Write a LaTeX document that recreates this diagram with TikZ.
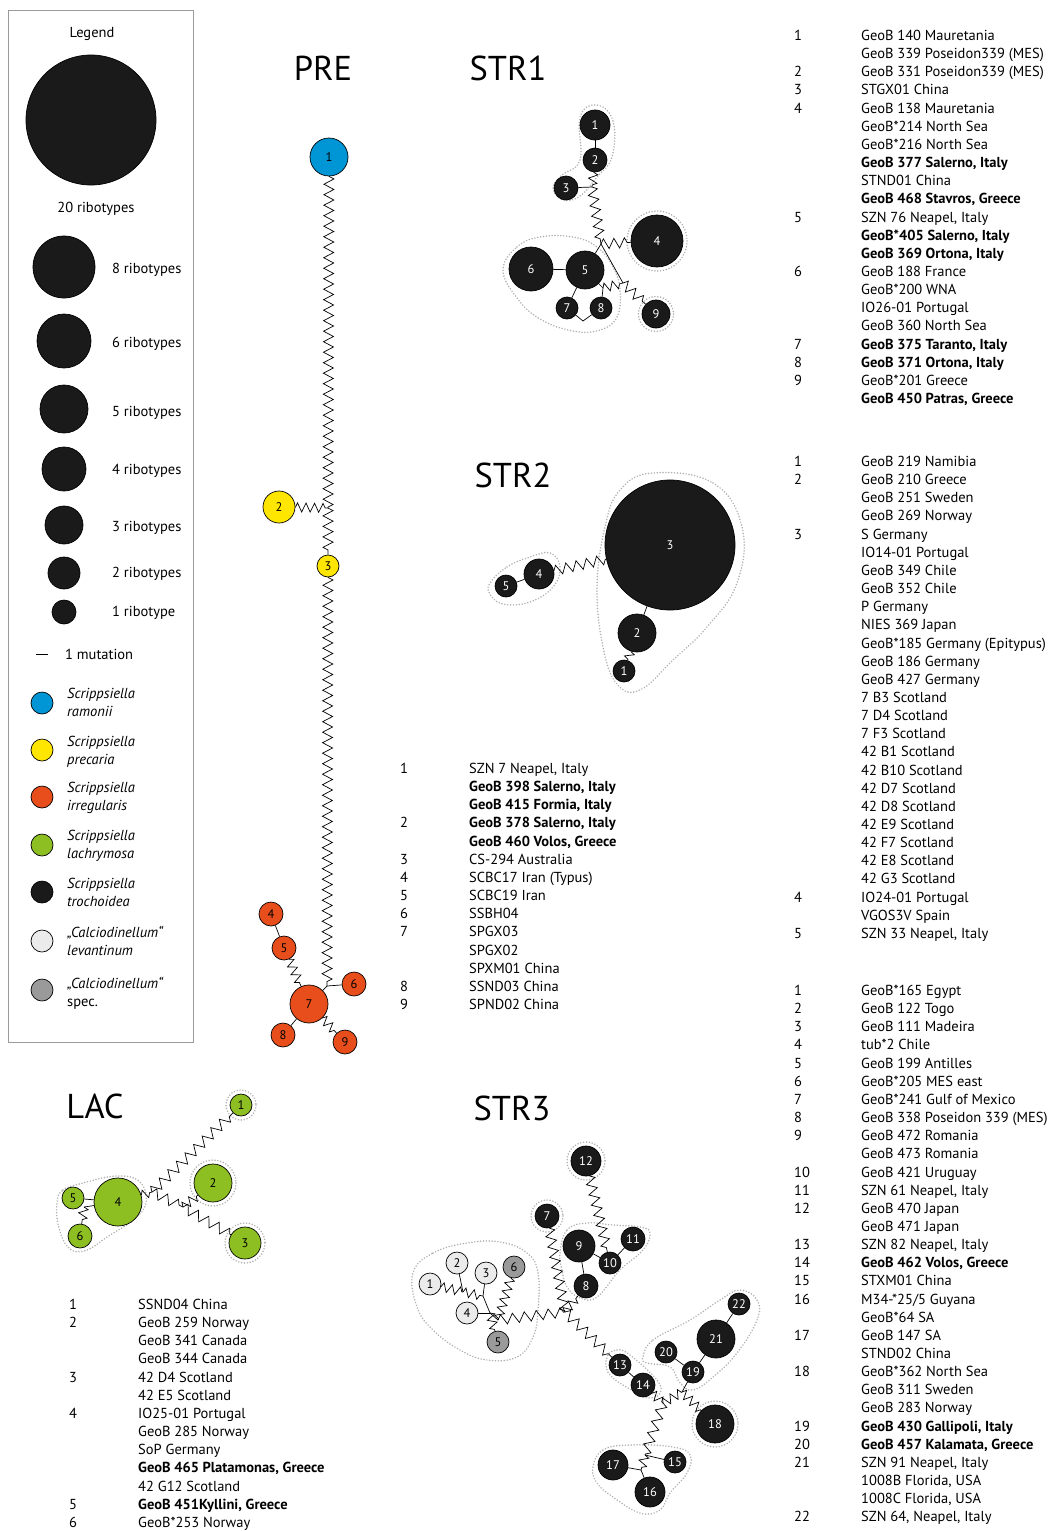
\documentclass[tikz,border=0pt]{standalone}
\usepackage{fontspec}
\setmainfont{PT Sans}
\usetikzlibrary{decorations.pathmorphing}
\definecolor{cblue}{HTML}{0096D6}
\definecolor{cyel}{HTML}{FFE600}
\definecolor{cora}{HTML}{E84E1B}
\definecolor{cgrn}{HTML}{8DBE22}
\definecolor{cblk}{HTML}{1A1A1A}
\definecolor{clgt}{HTML}{EBEBEB}
\definecolor{cgry}{HTML}{9A9A9A}
\definecolor{chul}{HTML}{B0B0B0}
\tikzset{
 hap/.style={circle, draw=black, line width=0.7pt, inner sep=0pt, minimum size={2*#1}, font=\fontsize{12.5}{12.5}\selectfont},
 dk/.style={fill=cblk, text=white},
 zz/.style={decorate, decoration={zigzag, segment length=10.5, amplitude=5}, line width=0.7pt},
 zb/.style={decorate, decoration={zigzag, segment length=12, amplitude=5}, line width=0.7pt},
 zs/.style={decorate, decoration={zigzag, segment length=8.5, amplitude=4.5}, line width=0.7pt},
 ln/.style={line width=0.7pt},
 hull/.style={draw=chul, line width=1.7pt, line cap=round, dash pattern=on 0pt off 2.9pt},
 ttl/.style={font=\fontsize{34.5}{34.5}\selectfont, inner sep=0},
 ltxt/.style={anchor=base west, inner sep=0, font=\fontsize{14.5}{16}\selectfont},
 lgd/.style={anchor=base west, inner sep=0, font=\fontsize{14.5}{16}\selectfont},
 lgi/.style={anchor=base west, inner sep=0, font=\fontsize{14.5}{16}\selectfont\itshape},
}
\newcounter{lrow}
\newcommand\lstart[4]{\gdef\lnx{#1}\gdef\ltx{#2}\gdef\lty{#3}\gdef\lpre{#4}\setcounter{lrow}{0}}
\newcommand\li[2]{\if\relax\detokenize{#1}\relax\else\node[ltxt] (\lpre n\arabic{lrow}) at (\lnx,{\lty+18.15*\arabic{lrow}}) {#1};\fi
 \node[ltxt] (\lpre t\arabic{lrow}) at (\ltx,{\lty+18.15*\arabic{lrow}}) {#2};\stepcounter{lrow}}
\begin{document}
\begin{tikzpicture}[x=1pt,y=-1pt]
\useasboundingbox (0,0) rectangle (1054,1531);
% ---------------- Legend
\draw[draw=cgry, line width=0.7pt] (8.5,10) rectangle (193,1042);
\node[lgd, anchor=base] (lgT) at (92,37.5) {Legend};
\node[hap=65, dk] (lg20) at (91,120) {};
\node[lgd, anchor=base] (lg20t) at (96,212.5) {20 ribotypes};
\node[hap=31, dk] (lg8) at (64,267) {};
\node[lgd] (lg8t) at (112,273) {8 ribotypes};
\node[hap=27, dk] (lg6) at (64,341) {};
\node[lgd] (lg6t) at (112,347) {6 ribotypes};
\node[hap=24, dk] (lg5) at (64,409) {};
\node[lgd] (lg5t) at (112,416) {5 ribotypes};
\node[hap=22, dk] (lg4) at (64,469) {};
\node[lgd] (lg4t) at (112,474) {4 ribotypes};
\node[hap=19, dk] (lg3) at (64,525) {};
\node[lgd] (lg3t) at (112,531) {3 ribotypes};
\node[hap=16, dk] (lg2) at (64,573) {};
\node[lgd] (lg2t) at (112,577) {2 ribotypes};
\node[hap=12, dk] (lg1) at (64,612) {};
\node[lgd] (lg1t) at (112,616) {1 ribotype};
\coordinate (lgm1) at (36,654); \coordinate (lgm2) at (48,654);
\draw[ln] (lgm1) -- (lgm2);
\node[lgd] (lgmt) at (65,659) {1 mutation};
\node[hap=11, fill=cblue] (lgc1) at (42,703) {};
\node[lgi] (lgc1a) at (67,698) {Scrippsiella};
\node[lgi] (lgc1b) at (67,716) {ramonii};
\node[hap=11, fill=cyel] (lgc2) at (42,750) {};
\node[lgi] (lgc2a) at (67,746) {Scrippsiella};
\node[lgi] (lgc2b) at (67,764) {precaria};
\node[hap=11, fill=cora] (lgc3) at (42,797) {};
\node[lgi] (lgc3a) at (67,792) {Scrippsiella};
\node[lgi] (lgc3b) at (67,810) {irregularis};
\node[hap=11, fill=cgrn] (lgc4) at (42,845) {};
\node[lgi] (lgc4a) at (67,840) {Scrippsiella};
\node[lgi] (lgc4b) at (67,858) {lachrymosa};
\node[hap=11, fill=cblk] (lgc5) at (42,892) {};
\node[lgi] (lgc5a) at (67,888) {Scrippsiella};
\node[lgi] (lgc5b) at (67,906) {trochoidea};
\node[hap=11, fill=clgt] (lgc6) at (42,941) {};
\node[lgi] (lgc6a) at (67,937) {„Calciodinellum“};
\node[lgi] (lgc6b) at (67,955) {levantinum};
\node[hap=11, fill=cgry] (lgc7) at (42,990) {};
\node[lgi] (lgc7a) at (67,988) {„Calciodinellum“};
\node[lgd] (lgc7b) at (67,1006) {spec.};
% ---------------- Titles
\node[ttl] (tPRE) at (323,68) {PRE};
\node[ttl] (tSTR1) at (508,68) {STR1};
\node[ttl] (tSTR2) at (513,475) {STR2};
\node[ttl] (tLAC) at (95,1106) {LAC};
\node[ttl] (tSTR3) at (512,1108) {STR3};
% ---------------- PRE
\node[hap=19, fill=cblue] (P1) at (329,157) {1};
\node[hap=16, fill=cyel] (P2) at (279,507) {2};
\node[hap=11, fill=cyel] (P3) at (328,566) {3};
\node[hap=12, fill=cora] (P4) at (271,914) {4};
\node[hap=12, fill=cora] (P5) at (284,948) {5};
\node[hap=12, fill=cora] (P6) at (354,984) {6};
\node[hap=19, fill=cora] (P7) at (309,1004) {7};
\node[hap=12, fill=cora] (P8) at (283,1035) {8};
\node[hap=12, fill=cora] (P9) at (345,1042) {9};
\coordinate (PJ1) at (328,508);
\coordinate (PJ2) at (327,986);
\draw[zz] (P1) -- (PJ1);
\draw[zz] (PJ1) -- (P3);
\draw[zs] (P2) -- (PJ1);
\draw[zz] (P3) -- (PJ2);
\draw[ln] (PJ2) -- (P6);
\draw[ln] (PJ2) -- (P7);
\draw[ln] (P4) -- (P5);
\draw[zs] (P5) -- (P7);
\draw[ln] (P7) -- (P8);
\draw[zs] (P7) -- (P9);
% ---------------- STR1
\draw[hull] plot[smooth cycle, tension=0.7] coordinates {(597,105) (613,121) (612,157) (597,177) (580,196) (563,200) (553,188) (562,175) (580,160) (580,117)};
\draw[hull] (657,241) circle (30);
\draw[hull] (656,314) circle (17.5);
\draw[hull] plot[smooth cycle, tension=0.7] coordinates {(503,270) (517,247) (540,237) (573,237) (597,247) (613,267) (620,290) (617,317) (600,330) (573,331) (540,319) (517,298)};
\node[hap=15, dk] (A1) at (595,125) {1};
\node[hap=12, dk] (A2) at (595,160) {2};
\node[hap=12, dk] (A3) at (566,188) {3};
\node[hap=26, dk] (A4) at (657,241) {4};
\node[hap=19, dk] (A5) at (585,270) {5};
\node[hap=22, dk] (A6) at (531,269) {6};
\node[hap=11, dk] (A7) at (567,308) {7};
\node[hap=11, dk] (A8) at (601,308) {8};
\node[hap=14, dk] (A9) at (656,314) {9};
\coordinate (AJ1) at (592,187);
\coordinate (AJ2) at (601,244);
\coordinate (AJ3) at (623,283);
\coordinate (AJ4) at (603,288);
\coordinate (AJ5) at (583,321);
\draw[ln] (A1) -- (A2);
\draw[zs] (A2) -- (AJ1);
\draw[ln] (A3) -- (AJ1);
\draw[zz] (AJ1) -- (AJ2);
\draw[ln] (AJ2) -- (A5);
\draw[zz] (AJ2) -- (A4);
\draw[ln] (AJ2) -- (AJ3);
\draw[zz] (AJ3) -- (A9);
\draw[ln] (A5) -- (AJ4);
\draw[ln] (AJ4) -- (A8);
\draw[zs] (AJ4) -- (AJ3);
\draw[ln] (A5) -- (A6);
\draw[ln] (A5) -- (A7);
\draw[ln] (A7) -- (AJ5) -- (A8);
% ---------------- STR2
\draw[hull] plot[smooth cycle, tension=0.7] coordinates {(490,583) (507,567) (530,557) (550,553) (560,567) (553,587) (530,602) (503,604) (490,594)};
\draw[hull] plot[smooth cycle, tension=0.7] coordinates {(653,473) (713,483) (742,527) (737,583) (707,627) (673,660) (640,690) (617,684) (603,647) (597,587) (605,527) (620,490)};
\node[hap=65, dk] (B3) at (670,545) {3};
\node[hap=19, dk] (B2) at (637,633) {2};
\node[hap=11, dk] (B1) at (624,671) {1};
\node[hap=15, dk] (B4) at (539,574) {4};
\node[hap=11, dk] (B5) at (506,586) {5};
\draw[ln] (B3) -- (B2);
\draw[zs] (B2) -- (B1);
\draw[ln] (B4) -- (B5);
\draw[zz] (B4) -- (B3);
% ---------------- LAC
\draw[hull] (241,1105) circle (15);
\draw[hull] (213,1183) circle (23);
\draw[hull] (245,1243) circle (20);
\draw[hull] plot[smooth cycle, tension=0.7] coordinates {(57,1203) (63,1190) (83,1183) (117,1176) (140,1182) (146,1203) (133,1220) (107,1237) (87,1250) (70,1249) (59,1228)};
\node[hap=11, fill=cgrn] (C1) at (241,1105) {1};
\node[hap=19, fill=cgrn] (C2) at (213,1183) {2};
\node[hap=16, fill=cgrn] (C3) at (245,1243) {3};
\node[hap=24, fill=cgrn] (C4) at (118,1202) {4};
\node[hap=11, fill=cgrn] (C5) at (73,1198) {5};
\node[hap=12, fill=cgrn] (C6) at (80,1236) {6};
\coordinate (CJ1) at (152,1192);
\coordinate (CJ2) at (183,1207);
\coordinate (CJ3) at (84,1207);
\draw[zs] (C4) -- (CJ1);
\draw[zb] (CJ1) -- (C1);
\draw[zb] (CJ1) -- (CJ2);
\draw[zs] (CJ2) -- (C2);
\draw[zb] (CJ2) -- (C3);
\draw[ln] (C5) -- (C4);
\draw[ln] (CJ3) -- (C4);
\draw[zs] (CJ3) -- (C6);
% ---------------- STR3
\draw[hull] (586,1161) circle (19);
\draw[hull] (547,1216) circle (16);
\draw[hull] (715,1424) circle (23);
\draw[hull] plot[smooth cycle, tension=0.7] coordinates {(560,1253) (567,1230) (587,1223) (613,1225) (640,1227) (650,1233) (643,1250) (620,1270) (597,1297) (580,1298) (567,1287) (562,1270)};
\draw[hull] plot[smooth cycle, tension=0.7] coordinates {(413,1273) (433,1253) (467,1243) (500,1242) (527,1253) (538,1273) (538,1310) (533,1337) (517,1357) (487,1360) (460,1350) (433,1330) (417,1307)};
\draw[hull] plot[smooth cycle, tension=0.7] coordinates {(607,1357) (617,1350) (630,1355) (657,1380) (660,1393) (650,1398) (637,1393) (610,1375)};
\draw[hull] plot[smooth cycle, tension=0.7] coordinates {(643,1357) (653,1340) (690,1320) (720,1300) (740,1290) (757,1300) (757,1320) (737,1353) (713,1377) (693,1390) (680,1383) (670,1367) (647,1363)};
\draw[hull] plot[smooth cycle, tension=0.7] coordinates {(593,1467) (603,1450) (630,1445) (673,1447) (690,1455) (687,1473) (670,1493) (660,1510) (640,1513) (613,1497) (597,1483)};
\node[hap=11, fill=clgt] (D1) at (430,1284) {1};
\node[hap=11, fill=clgt] (D2) at (457,1263) {2};
\node[hap=11, fill=clgt] (D3) at (486,1273) {3};
\node[hap=11, fill=clgt] (D4) at (467,1313) {4};
\node[hap=11, fill=cgry] (D5) at (498,1342) {5};
\node[hap=11, fill=cgry] (D6) at (514,1267) {6};
\node[hap=12, dk] (D7) at (547,1216) {7};
\node[hap=12, dk] (D8) at (586,1286) {8};
\node[hap=16, dk] (D9) at (579,1246) {9};
\node[hap=11, dk] (D10) at (610,1263) {10};
\node[hap=12, dk] (D11) at (633,1239) {11};
\node[hap=15, dk] (D12) at (586,1161) {12};
\node[hap=11, dk] (D13) at (620,1365) {13};
\node[hap=12, dk] (D14) at (643,1385) {14};
\node[hap=11, dk] (D15) at (675,1462) {15};
\node[hap=15, dk] (D16) at (650,1492) {16};
\node[hap=15, dk] (D17) at (613,1465) {17};
\node[hap=19, dk] (D18) at (715,1424) {18};
\node[hap=11, dk] (D19) at (693,1372) {19};
\node[hap=11, dk] (D20) at (666,1352) {20};
\node[hap=19, dk] (D21) at (716,1339) {21};
\node[hap=11, dk] (D22) at (739,1304) {22};
\coordinate (DJa) at (463,1292);
\coordinate (DJA) at (483,1296);
\coordinate (DJB) at (490,1313);
\coordinate (DJC) at (498,1320);
\coordinate (DJD) at (565,1312);
\coordinate (DJE) at (663,1403);
\coordinate (DJF) at (682,1392);
\coordinate (DJG) at (645,1455);
\coordinate (DJH) at (641,1470);
\draw[zs] (D1) -- (DJa);
\draw[zs] (DJa) -- (DJA);
\draw[ln] (D2) -- (DJa);
\draw[ln] (D3) -- (DJA);
\draw[ln] (DJA) -- (DJB);
\draw[ln] (D4) -- (DJB);
\draw[zs] (DJB) -- (D5);
\draw[ln] (DJB) -- (DJC);
\draw[zs] (D6) -- (DJC);
\draw[zb] (DJC) -- (DJD);
\draw[zz] (D7) -- (DJD);
\draw[zs] (DJD) -- (D8);
\draw[zb] (DJD) -- (D13);
\draw[zz] (D12) -- (D10);
\draw[ln] (D10) -- (D11);
\draw[ln] (D9) -- (D10);
\draw[ln] (D9) -- (D8);
\draw[ln] (D13) -- (D14);
\draw[zs] (D14) -- (DJE);
\draw[zs] (DJE) -- (DJF);
\draw[ln] (DJF) -- (D19);
\draw[zs] (DJF) -- (D18);
\draw[ln] (D19) -- (D21);
\draw[ln] (D21) -- (D22);
\draw[ln] (D20) -- (D19);
\draw[zb] (DJE) -- (DJG);
\draw[ln] (DJG) -- (D15);
\draw[zs] (DJG) -- (DJH);
\draw[ln] (DJH) -- (D17);
\draw[ln] (DJH) -- (D16);
% ---------------- Lists
\lstart{794}{861}{40.5}{La}
\li{1}{GeoB 140 Mauretania}
\li{}{GeoB 339 Poseidon339 (MES)}
\li{2}{GeoB 331 Poseidon339 (MES)}
\li{3}{STGX01 China}
\li{4}{GeoB 138 Mauretania}
\li{}{GeoB*214 North Sea}
\li{}{GeoB*216 North Sea}
\li{}{\textbf{GeoB 377 Salerno, Italy}}
\li{}{STND01 China}
\li{}{\textbf{GeoB 468 Stavros, Greece}}
\li{5}{SZN 76 Neapel, Italy}
\li{}{\textbf{GeoB*405 Salerno, Italy}}
\li{}{\textbf{GeoB 369 Ortona, Italy}}
\li{6}{GeoB 188 France}
\li{}{GeoB*200 WNA}
\li{}{IO26-01 Portugal}
\li{}{GeoB 360 North Sea}
\li{7}{\textbf{GeoB 375 Taranto, Italy}}
\li{8}{\textbf{GeoB 371 Ortona, Italy}}
\li{9}{GeoB*201 Greece}
\li{}{\textbf{GeoB 450 Patras, Greece}}
\lstart{794}{861}{466.5}{Lb}
\li{1}{GeoB 219 Namibia}
\li{2}{GeoB 210 Greece}
\li{}{GeoB 251 Sweden}
\li{}{GeoB 269 Norway}
\li{3}{S Germany}
\li{}{IO14-01 Portugal}
\li{}{GeoB 349 Chile}
\li{}{GeoB 352 Chile}
\li{}{P Germany}
\li{}{NIES 369 Japan}
\li{}{GeoB*185 Germany (Epitypus)}
\li{}{GeoB 186 Germany}
\li{}{GeoB 427 Germany}
\li{}{7 B3 Scotland}
\li{}{7 D4 Scotland}
\li{}{7 F3 Scotland}
\li{}{42 B1 Scotland}
\li{}{42 B10 Scotland}
\li{}{42 D7 Scotland}
\li{}{42 D8 Scotland}
\li{}{42 E9 Scotland}
\li{}{42 F7 Scotland}
\li{}{42 E8 Scotland}
\li{}{42 G3 Scotland}
\li{4}{IO24-01 Portugal}
\li{}{VGOS3V Spain}
\li{5}{SZN 33 Neapel, Italy}
\lstart{794}{861}{995.5}{Lc}
\li{1}{GeoB*165 Egypt}
\li{2}{GeoB 122 Togo}
\li{3}{GeoB 111 Madeira}
\li{4}{tub*2 Chile}
\li{5}{GeoB 199 Antilles}
\li{6}{GeoB*205 MES east}
\li{7}{GeoB*241 Gulf of Mexico}
\li{8}{GeoB 338 Poseidon 339 (MES)}
\li{9}{GeoB 472 Romania}
\li{}{GeoB 473 Romania}
\li{10}{GeoB 421 Uruguay}
\li{11}{SZN 61 Neapel, Italy}
\li{12}{GeoB 470 Japan}
\li{}{GeoB 471 Japan}
\li{13}{SZN 82 Neapel, Italy}
\li{14}{\textbf{GeoB 462 Volos, Greece}}
\li{15}{STXM01 China}
\li{16}{M34-*25/5 Guyana}
\li{}{GeoB*64 SA}
\li{17}{GeoB 147 SA}
\li{}{STND02 China}
\li{18}{GeoB*362 North Sea}
\li{}{GeoB 311 Sweden}
\li{}{GeoB 283 Norway}
\li{19}{\textbf{GeoB 430 Gallipoli, Italy}}
\li{20}{\textbf{GeoB 457 Kalamata, Greece}}
\li{21}{SZN 91 Neapel, Italy}
\li{}{1008B Florida, USA}
\li{}{1008C Florida, USA}
\li{22}{SZN 64, Neapel, Italy}
\lstart{400}{469}{773.5}{Ld}
\li{1}{SZN 7 Neapel, Italy}
\li{}{\textbf{GeoB 398 Salerno, Italy}}
\li{}{\textbf{GeoB 415 Formia, Italy}}
\li{2}{\textbf{GeoB 378 Salerno, Italy}}
\li{}{\textbf{GeoB 460 Volos, Greece}}
\li{3}{CS-294 Australia}
\li{4}{SCBC17 Iran (Typus)}
\li{5}{SCBC19 Iran}
\li{6}{SSBH04}
\li{7}{SPGX03}
\li{}{SPGX02}
\li{}{SPXM01 China}
\li{8}{SSND03 China}
\li{9}{SPND02 China}
\lstart{69}{138}{1309.5}{Le}
\li{1}{SSND04 China}
\li{2}{GeoB 259 Norway}
\li{}{GeoB 341 Canada}
\li{}{GeoB 344 Canada}
\li{3}{42 D4 Scotland}
\li{}{42 E5 Scotland}
\li{4}{IO25-01 Portugal}
\li{}{GeoB 285 Norway}
\li{}{SoP Germany}
\li{}{\textbf{GeoB 465 Platamonas, Greece}}
\li{}{42 G12 Scotland}
\li{5}{\textbf{GeoB 451Kyllini, Greece}}
\li{6}{GeoB*253 Norway}
\end{tikzpicture}
\end{document}
